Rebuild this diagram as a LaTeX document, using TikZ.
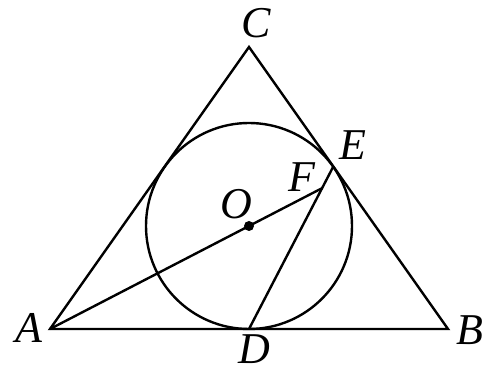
\documentclass[tikz,border=0pt]{standalone}
\usepackage{fontspec}
\setmainfont{Liberation Serif}
\usetikzlibrary{calc}
\begin{document}
\begin{tikzpicture}[x=1pt,y=-1pt]
    \tikzstyle{every node}+=[inner sep=0pt]
    \tikzstyle{lbl}=[font=\fontsize{44}{44}\selectfont\itshape]
    \tikzstyle{edge}=[black, line width=2.4pt]
    \useasboundingbox (0,0) rectangle (485,371);
    \coordinate (A) at (50,329);
    \coordinate (B) at (448,329);
    \coordinate (C) at (249,47);
    \coordinate (O) at (249,226);
    \coordinate (D) at (249,329);
    \coordinate (E) at ($(B)!(O)!(C)$);
    \coordinate (F) at (intersection of A--O and D--E);
    \draw [edge, line join=miter] (A) -- (B) -- (C) -- cycle;
    \draw [edge] (O) circle (103pt);
    \draw [edge] (D) -- (E);
    \draw [edge] (A) -- (F);
    \fill [black] (O) circle (5pt);
    \node (lA) [lbl] at (29,328) {A};
    \node (lB) [lbl] at (470,330) {B};
    \node (lC) [lbl] at (256,23) {C};
    \node (lD) [lbl] at (254,349) {D};
    \node (lE) [lbl] at (353,145) {E};
    \node (lF) [lbl] at (302,177) {F};
    \node (lO) [lbl] at (236,204) {O};
\end{tikzpicture}
\end{document}
